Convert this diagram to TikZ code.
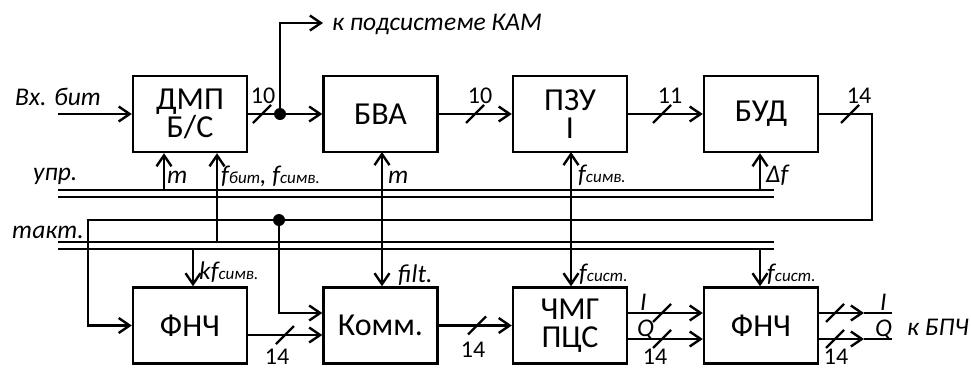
\documentclass[tikz,border=0pt]{standalone}
\usepackage{fontspec}
\setmainfont{Carlito}
\usetikzlibrary{arrows.meta}
\newcommand\mysub[1]{{\fontsize{17}{17}\selectfont #1}}
\tikzset{
 blk/.style={draw, line width=2.4pt, minimum width=114pt, minimum height=76pt, inner sep=0pt, font=\fontsize{32}{28}\selectfont, align=center},
 ln/.style={line width=2.4pt},
 arr/.style={ln, -{Straight Barb[length=11pt,width=15pt]}},
 darr/.style={ln, {Straight Barb[length=11pt,width=15pt]}-{Straight Barb[length=11pt,width=15pt]}},
 lbl/.style={font=\fontsize{25.5}{25.5}\selectfont\itshape, inner sep=0pt, anchor=base west},
 num/.style={font=\fontsize{24}{24}\selectfont, inner sep=0pt},
 dotc/.style={circle, fill, minimum size=12pt, inner sep=0pt},
}
\begin{document}
\begin{tikzpicture}[x=1pt,y=-1pt]
\useasboundingbox (0,0) rectangle (971,370);
% blocks
\node[blk] (dmp) at (190,114) {ДМП\\Б/С};
\node[blk] (bva) at (380.5,114) {БВА};
\node[blk] (pzu) at (570,114) {ПЗУ\\I};
\node[blk] (bud) at (761,114) {БУД};
\node[blk] (fnc1) at (190,325.5) {ФНЧ};
\node[blk] (komm) at (380.5,325.5) {Комм.};
\node[blk] (chmg) at (570,325.5) {ЧМГ\\ПЦС};
\node[blk] (fnc2) at (761,325.5) {ФНЧ};
% buses
\coordinate (u1L) at (58,190); \coordinate (u1R) at (774,190);
\coordinate (u2L) at (58,197); \coordinate (u2R) at (774,197);
\coordinate (t1L) at (58,242); \coordinate (t1R) at (774,242);
\coordinate (t2L) at (58,249); \coordinate (t2R) at (774,249);
\draw[ln] (u1L) -- (u1R);
\draw[ln] (u2L) -- (u2R);
\draw[ln] (t1L) -- (t1R);
\draw[ln] (t2L) -- (t2R);
% top row
\coordinate (in) at (58,114);
\draw[arr] (in) -- (dmp.west);
\node[dotc] (d1) at (280,114) {};
\draw[ln] (dmp.east) -- (d1);
\draw[arr] (d1) -- (bva.west);
\coordinate (kam) at (323,23);
\draw[arr] (d1.center) |- (kam);
\draw[arr] (bva.east) -- (pzu.west);
\draw[arr] (pzu.east) -- (bud.west);
% verticals
\coordinate (m1) at (164,190);
\draw[arr] (m1) -- (m1 |- dmp.south);
\coordinate (fb) at (217,242);
\draw[arr] (fb) -- (fb |- dmp.south);
\coordinate (vb) at (382,152);
\draw[darr] (vb) -- (vb |- komm.north);
\coordinate (vp) at (571,152);
\draw[darr] (vp) -- (vp |- chmg.north);
\coordinate (df) at (760,190);
\draw[arr] (df) -- (df |- bud.south);
\coordinate (kf) at (193,249);
\draw[arr] (kf) -- (kf |- fnc1.north);
\coordinate (fs2) at (760,249);
\draw[arr] (fs2) -- (fs2 |- fnc2.north);
% feedback
\coordinate (fbR) at (872,114);
\coordinate (fbB) at (872,220);
\coordinate (fbL) at (88,220);
\draw[arr] (bud.east) -- (fbR) -- (fbB) -- (fbL) |- (fnc1.west);
\node[dotc] (d2) at (279,220) {};
\coordinate (kin1) at ([yshift=12.5pt]komm.west);
\coordinate (kin2) at ([yshift=-9.5pt]komm.west);
\draw[arr] (d2.center) |- (kin1);
\draw[arr] ([yshift=-9.5pt]fnc1.east) -- (kin2);
\draw[arr] (komm.east) -- (chmg.west);
\draw[arr] ([yshift=12.5pt]chmg.east) -- ([yshift=12.5pt]fnc2.west);
\draw[arr] ([yshift=-13.5pt]chmg.east) -- ([yshift=-13.5pt]fnc2.west);
\coordinate (oI1) at (864,313); \coordinate (oI2) at (892,313);
\coordinate (oQ1) at (864,339); \coordinate (oQ2) at (892,339);
\draw[arr] ([yshift=12.5pt]fnc2.east) -- (oI1);
\draw[ln] (oI1) -- (oI2);
\draw[arr] ([yshift=-13.5pt]fnc2.east) -- (oQ1);
\draw[ln] (oQ1) -- (oQ2);
% slashes
\foreach \p in {(262,114),(475,114),(662,114),(850,114),(285,335),(477,325.5),(662,313),(662,339),(835,313),(835,339)}
  \draw[ln] \p ++(-9,9) -- ++(18,-18);
% numbers
\node[num] (n1) at (263,96) {10};
\node[num] (n2) at (480,96) {10};
\node[num] (n3) at (670,96) {11};
\node[num] (n4) at (859,96) {14};
\node[num] (n5) at (277,357) {14};
\node[num] (n6) at (473,350) {14};
\node[num] (n7) at (655,357) {14};
\node[num] (n8) at (836,357) {14};
% labels
\node[lbl] (lin) at (15,105) {Вх. бит};
\node[lbl] (lupr) at (33,180) {упр.};
\node[lbl] (ltakt) at (12,238) {такт.};
\node[lbl] (lkam) at (332,30) {к подсистеме КАМ};
\node[lbl] (lbpch) at (907,335) {к БПЧ};
\node[lbl] (lI1) at (640,310) {I};
\node[lbl] (lQ1) at (637,336) {Q};
\node[lbl] (lI2) at (880,310) {I};
\node[lbl] (lQ2) at (875,336) {Q};
\node[lbl] (lm1) at (167,183) {m};
\node[lbl] (lfb) at (221,183) {f\mysub{бит}, f\mysub{симв.}};
\node[lbl] (lm2) at (388,183) {m};
\node[lbl] (lfs1) at (578,182) {f\mysub{симв.}};
\node[lbl] (ldf) at (766,182) {Δf};
\node[lbl] (lkf) at (199,279) {kf\mysub{симв.}};
\node[lbl] (lfilt) at (398,282) {filt.};
\node[lbl] (lfs2) at (579,281) {f\mysub{сист.}};
\node[lbl] (lfs3) at (767,281) {f\mysub{сист.}};
\end{tikzpicture}
\end{document}
